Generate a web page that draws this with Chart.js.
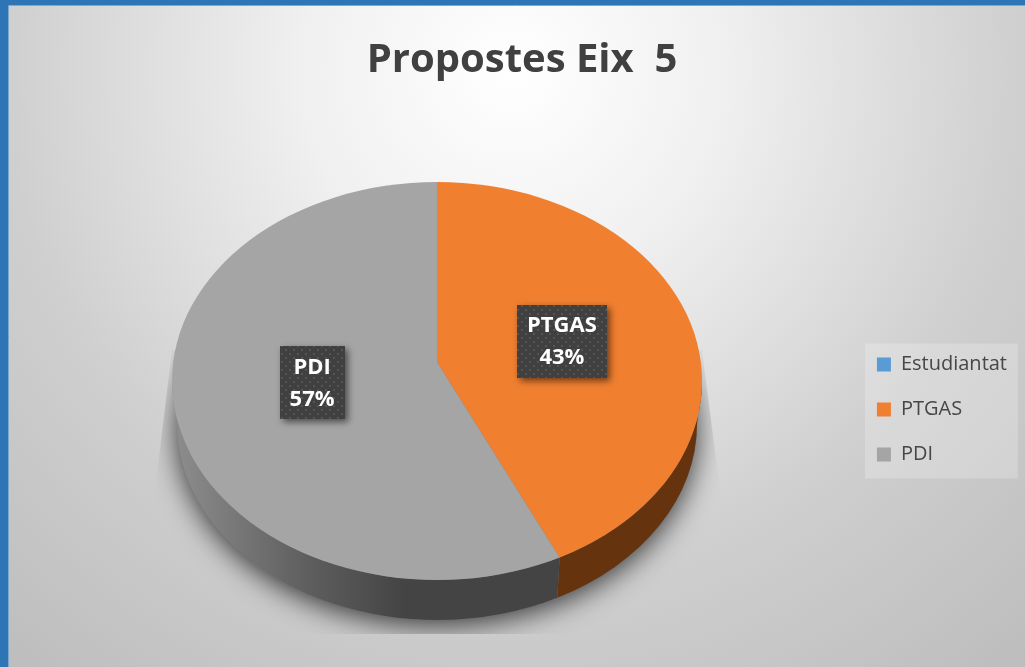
<!DOCTYPE html>
<html><head><meta charset="utf-8">
<style>html,body{margin:0;padding:0;background:#2E75B6}canvas{display:block}</style>
<script src="https://cdn.jsdelivr.net/npm/chart.js@4"></script>
</head><body>
<canvas id="c" width="1025" height="667"></canvas>
<script>
const categories = ['Estudiantat', 'PTGAS', 'PDI'];
const values = [0, 43, 57];
const sliceColors = ['#5B9BD5', '#F07F30', '#A5A5A5'];
const chartTitle = 'Propostes Eix  5';

// 3D look of the pie: top ellipse, wedge apex (perspective) and lower rim
const G = {cx:437, cy:381, rx:265, ry:199, ax:437, ay:362, k:0.75, lx:437, ly:424, lrx:260, lry:196, R:295, labelR:128};

function rimParam(a){
  const ox=(G.ax-G.cx)/G.rx, oy=(G.ay-G.cy)/G.ry;
  const vx=Math.cos(a)/G.rx, vy=Math.sin(a)*G.k/G.ry;
  const A=vx*vx+vy*vy, B=2*(ox*vx+oy*vy), C=ox*ox+oy*oy-1;
  const s=(-B+Math.sqrt(B*B-4*A*C))/(2*A);
  return Math.atan2(oy+s*vy, ox+s*vx);
}
function wallStyle(ctx,i){
  if(i===1) return '#65340F';
  if(i===2){
    const g=ctx.createLinearGradient(172,0,561,0);
    g.addColorStop(0,'#8E8E8E'); g.addColorStop(0.35,'#5E5E5E');
    g.addColorStop(0.6,'#444444'); g.addColorStop(1,'#444444');
    return g;
  }
  return '#2E5F8F';
}
const look = {
  id:'look',
  beforeDraw(chart){
    const {ctx,width,height}=chart;
    ctx.save();
    ctx.fillStyle='#2E75B6'; ctx.fillRect(0,0,width,height);
    const g=ctx.createRadialGradient(512,70,0,512,70,780);
    g.addColorStop(0,'#FFFFFF'); g.addColorStop(0.27,'#F0F0F0'); g.addColorStop(0.65,'#CFCFCF'); g.addColorStop(1,'#BDBDBD');
    ctx.fillStyle=g; ctx.fillRect(9,5,width-9,height-5);
    ctx.strokeStyle='#7FA6CC'; ctx.lineWidth=1;
    ctx.beginPath(); ctx.moveTo(8.5,height); ctx.lineTo(8.5,5.5); ctx.lineTo(width,5.5); ctx.stroke();
    const lg=chart.legend, first=lg.legendHitBoxes[0], last=lg.legendHitBoxes[lg.legendHitBoxes.length-1];
    ctx.fillStyle='rgba(255,255,255,0.22)';
    ctx.fillRect(first.left-12,first.top-11,153,last.top+last.height-first.top+25);
    ctx.restore();
  },
  beforeDatasetsDraw(chart){
    const {ctx}=chart, arcs=chart.getDatasetMeta(0).data;
    // floor shadow
    ctx.save();
    ctx.beginPath();
    ctx.moveTo(172,350); ctx.lineTo(155,490); ctx.lineTo(155,634); ctx.lineTo(720,634); ctx.lineTo(720,490); ctx.lineTo(702,350);
    ctx.closePath(); ctx.clip();
    ctx.shadowColor='rgba(0,0,0,0.75)'; ctx.shadowBlur=28; ctx.shadowOffsetY=5;
    ctx.fillStyle='#777';
    ctx.beginPath(); ctx.ellipse(G.lx,G.ly,G.lrx,G.lry,0,0,Math.PI*2); ctx.fill();
    ctx.restore();
    // side walls, from the library's arcs
    arcs.forEach((arc,i)=>{
      if(arc.endAngle-arc.startAngle<=0) return;
      let t0=rimParam(arc.startAngle), t1=rimParam(arc.endAngle);
      if(t1<=t0) t1+=Math.PI*2;
      t0=Math.max(t0,0); t1=Math.min(t1,Math.PI);
      if(t1<=t0) return;
      ctx.beginPath();
      ctx.ellipse(G.cx,G.cy,G.rx,G.ry,0,t0,t1);
      ctx.ellipse(G.lx,G.ly,G.lrx,G.lry,0,t1,t0,true);
      ctx.closePath();
      ctx.fillStyle=wallStyle(ctx,i); ctx.fill();
    });
    // top surface: the library draws its arcs inside this transform
    const a0=arcs[0], s=G.R/a0.outerRadius;
    ctx.save();
    ctx.beginPath(); ctx.ellipse(G.cx,G.cy,G.rx,G.ry,0,0,Math.PI*2); ctx.clip();
    ctx.translate(G.ax,G.ay); ctx.scale(s,s*G.k); ctx.translate(-a0.x,-a0.y);
  },
  afterDatasetsDraw(chart){
    const {ctx}=chart, arcs=chart.getDatasetMeta(0).data;
    ctx.restore();
    const total=values.reduce((p,v)=>p+v,0);
    const pc=document.createElement('canvas'); pc.width=pc.height=16;
    const p=pc.getContext('2d');
    p.fillStyle='#404040'; p.fillRect(0,0,16,16);
    p.fillStyle='#555555'; p.fillRect(1,1,2,2); p.fillRect(9,1,2,2); p.fillRect(5,5,2,2); p.fillRect(13,5,2,2); p.fillRect(1,9,2,2); p.fillRect(9,9,2,2); p.fillRect(5,13,2,2); p.fillRect(13,13,2,2);
    const pat=ctx.createPattern(pc,'repeat');
    arcs.forEach((arc,i)=>{
      if(values[i]===0) return;
      const mid=(arc.startAngle+arc.endAngle)/2;
      const x=G.ax+Math.cos(mid)*G.labelR, y=G.ay+Math.sin(mid)*G.labelR*G.k;
      const l1=categories[i], l2=Math.round(values[i]/total*100)+'%';
      ctx.font='700 22px "Open Sans"';
      const w=Math.max(ctx.measureText(l1).width,ctx.measureText(l2).width)+20, h=73;
      ctx.save();
      ctx.shadowColor='rgba(0,0,0,0.55)'; ctx.shadowBlur=7; ctx.shadowOffsetX=3; ctx.shadowOffsetY=3;
      ctx.fillStyle=pat; ctx.fillRect(Math.round(x-w/2),Math.round(y-h/2),Math.round(w),h);
      ctx.restore();
      ctx.fillStyle='#FFFFFF'; ctx.textAlign='center'; ctx.textBaseline='middle';
      ctx.fillText(l1,x,y-15); ctx.fillText(l2,x,y+17);
    });
  }
};
new Chart(document.getElementById('c'),{
  type:'pie',
  data:{labels:categories,datasets:[{data:values,backgroundColor:sliceColors,borderWidth:0,clip:false}]},
  options:{
    responsive:false,animation:false,
    layout:{padding:{left:27,right:8,top:0,bottom:0}},
    plugins:{
      tooltip:{enabled:false},
      title:{display:true,text:chartTitle,color:'#404040',font:{family:'"Open Sans"',size:40,weight:'700'},padding:{top:37,bottom:67}},
      legend:{position:'right',align:'center',fullSize:false,labels:{color:'#474747',font:{family:'"Open Sans"',size:20},boxWidth:14,boxHeight:14,padding:25}}
    }
  },
  plugins:[look]
});
</script>
</body></html>
